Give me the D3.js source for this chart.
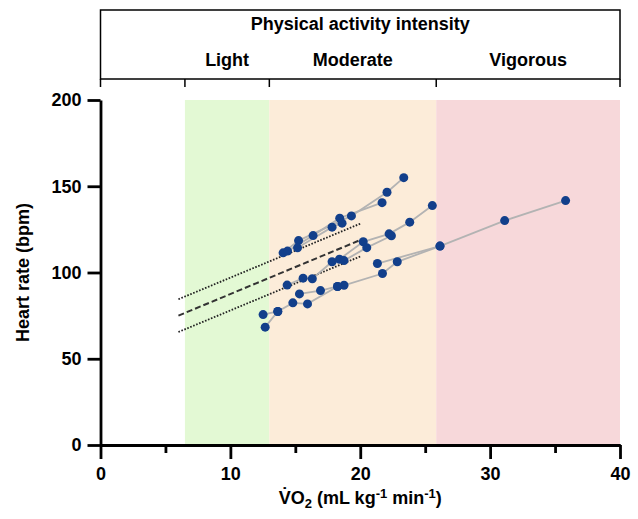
<!DOCTYPE html>
<html lang="en">
<head>
    <meta charset="UTF-8">
    <title>Heart rate vs VO2</title>
    <script src="https://d3js.org/d3.v7.min.js"></script>
    <style>
        body { margin: 0; background: #fff; }
        text { font-family: "Liberation Sans", Arial, sans-serif; font-weight: bold; fill: #000; }
    </style>
</head>
<body>
    <div id="chart"></div>

    <script>
        // Intensity zones (VO2 boundaries)
        var zoneNames = ["Light", "Moderate", "Vigorous"];
        var zoneStart = [6.5, 13, 25.85];
        var zoneEnd = [13, 25.85, 40];
        var zoneColors = ["#e3f9d4", "#fcecd9", "#f7d8da"];

        // Per-participant measurements (VO2, heart rate)
        var subjectVO2 = [
            [14.06, 15.25, 19.32, 22.06, 23.35],
            [14.40, 16.37, 18.42, 21.68],
            [15.17, 17.83, 18.60],
            [18.40, 20.23, 22.22, 23.81, 25.55],
            [18.75, 20.50, 22.40],
            [14.37, 15.60, 16.31, 17.83],
            [15.32, 16.94, 18.25],
            [18.75, 21.71, 22.85, 26.14, 31.12, 35.81],
            [21.32, 26.14],
            [12.52, 13.65],
            [12.68, 13.65, 14.81, 15.94, 18.25]
        ];
        var subjectHR = [
            [111.4, 118.5, 132.8, 146.5, 155.0],
            [112.4, 121.4, 131.5, 140.5],
            [114.3, 126.3, 128.6],
            [107.7, 117.8, 122.4, 129.2, 138.8],
            [106.9, 114.4, 121.3],
            [92.7, 96.7, 96.4, 106.2],
            [87.6, 89.5, 91.9],
            [92.6, 99.4, 106.2, 115.3, 130.1, 141.7],
            [105.2, 115.3],
            [75.6, 77.4],
            [68.3, 77.4, 82.4, 81.8, 91.9]
        ];

        // Regression line with bands
        var fitVO2 = [6, 20];
        var fitMean = [75.0, 118.8];
        var fitUpper = [84.5, 128.3];
        var fitLower = [65.5, 109.3];

        var xTicks = [0, 10, 20, 30, 40];
        var xMinorTicks = [5, 15, 25, 35];
        var yTicks = [0, 50, 100, 150, 200];

        var W = 638, H = 519;
        var margin = {top: 100, right: 18, bottom: 74, left: 100.5};
        var width = W - margin.left - margin.right;
        var height = H - margin.top - margin.bottom;

        var svg = d3.select("#chart").append("svg")
            .attr("width", W)
            .attr("height", H);

        var g = svg.append("g")
            .attr("transform", "translate(" + margin.left + "," + margin.top + ")");

        var x = d3.scaleLinear().domain([0, 40]).range([0, width]);
        var y = d3.scaleLinear().domain([0, 200]).range([height, 0]);

        // zone background bands
        g.selectAll(".zone")
            .data(zoneNames)
            .enter().append("rect")
            .attr("x", function(d, i) { return x(zoneStart[i]); })
            .attr("width", function(d, i) { return x(zoneEnd[i]) - x(zoneStart[i]); })
            .attr("y", 0)
            .attr("height", height)
            .style("fill", function(d, i) { return zoneColors[i]; });

        // header box above the plot
        var header = svg.append("g")
            .attr("transform", "translate(" + margin.left + ",0)");
        header.append("rect")
            .attr("x", 0).attr("y", 10)
            .attr("width", width).attr("height", 69)
            .style("fill", "none").style("stroke", "#000").style("stroke-width", 1.5);
        header.append("text")
            .attr("x", width / 2).attr("y", 30)
            .attr("text-anchor", "middle")
            .style("font-size", "18px")
            .text("Physical activity intensity");
        var bounds = [0].concat(zoneStart).concat([40]);
        header.selectAll(".htick")
            .data(bounds)
            .enter().append("line")
            .attr("x1", function(d) { return x(d); })
            .attr("x2", function(d) { return x(d); })
            .attr("y1", 79).attr("y2", 87)
            .style("stroke", "#000").style("stroke-width", 1.5);
        header.selectAll(".zlabel")
            .data(zoneNames)
            .enter().append("text")
            .attr("x", function(d, i) { return (x(zoneStart[i]) + x(zoneEnd[i])) / 2; })
            .attr("y", 66)
            .attr("text-anchor", "middle")
            .style("font-size", "18px")
            .text(function(d) { return d; });

        // regression lines
        var fitLine = d3.line()
            .x(function(d, i) { return x(fitVO2[i]); })
            .y(function(d) { return y(d); });
        g.append("path").datum(fitUpper).attr("d", fitLine)
            .style("fill", "none").style("stroke", "#222").style("stroke-width", 1.8)
            .style("stroke-dasharray", "1.6,1.6");
        g.append("path").datum(fitLower).attr("d", fitLine)
            .style("fill", "none").style("stroke", "#222").style("stroke-width", 1.8)
            .style("stroke-dasharray", "1.6,1.6");
        g.append("path").datum(fitMean).attr("d", fitLine)
            .style("fill", "none").style("stroke", "#333").style("stroke-width", 2)
            .style("stroke-dasharray", "6,3");

        // participant lines
        var subjLine = d3.line()
            .x(function(d) { return x(d[0]); })
            .y(function(d) { return y(d[1]); });
        var subjects = subjectVO2.map(function(v, i) {
            return v.map(function(vo2, j) { return [vo2, subjectHR[i][j]]; });
        });
        g.selectAll(".subj")
            .data(subjects)
            .enter().append("path")
            .attr("d", subjLine)
            .style("fill", "none").style("stroke", "#b3b3b3").style("stroke-width", 1.8);

        var allPts = [].concat.apply([], subjects);
        g.selectAll(".pt")
            .data(allPts)
            .enter().append("circle")
            .attr("cx", function(d) { return x(d[0]); })
            .attr("cy", function(d) { return y(d[1]); })
            .attr("r", 4.5)
            .style("fill", "#123f8b");

        // axes
        g.append("g")
            .attr("transform", "translate(0," + height + ")")
            .call(d3.axisBottom(x).tickValues(xTicks).tickSize(14).tickPadding(8).tickSizeOuter(0));
        g.append("g")
            .attr("transform", "translate(0," + height + ")")
            .call(d3.axisBottom(x).tickValues(xMinorTicks).tickSize(8).tickFormat("").tickSizeOuter(0));
        g.append("g")
            .call(d3.axisLeft(y).tickValues(yTicks).tickSize(13).tickPadding(6).tickSizeOuter(0));

        g.selectAll(".domain, .tick line")
            .style("stroke", "#000").style("stroke-width", 2.8);
        g.selectAll(".tick text")
            .style("font-size", "18px")
            .style("font-family", "'Liberation Sans', Arial, sans-serif")
            .style("font-weight", "bold");

        // axis titles
        g.append("text")
            .attr("transform", "translate(-72," + (height / 2) + ") rotate(-90)")
            .attr("text-anchor", "middle")
            .style("font-size", "18px")
            .text("Heart rate (bpm)");

        var xt = g.append("text")
            .attr("x", x(20))
            .attr("y", height + 59)
            .attr("text-anchor", "middle")
            .style("font-size", "18px");
        xt.append("tspan").text("V\u0307O");
        xt.append("tspan").attr("dy", 4).style("font-size", "13px").text("2");
        xt.append("tspan").attr("dy", -4).text(" (mL kg");
        xt.append("tspan").attr("dy", -6).style("font-size", "13px").text("-1");
        xt.append("tspan").attr("dy", 6).text(" min");
        xt.append("tspan").attr("dy", -6).style("font-size", "13px").text("-1");
        xt.append("tspan").attr("dy", 6).text(")");
    </script>
</body>
</html>
